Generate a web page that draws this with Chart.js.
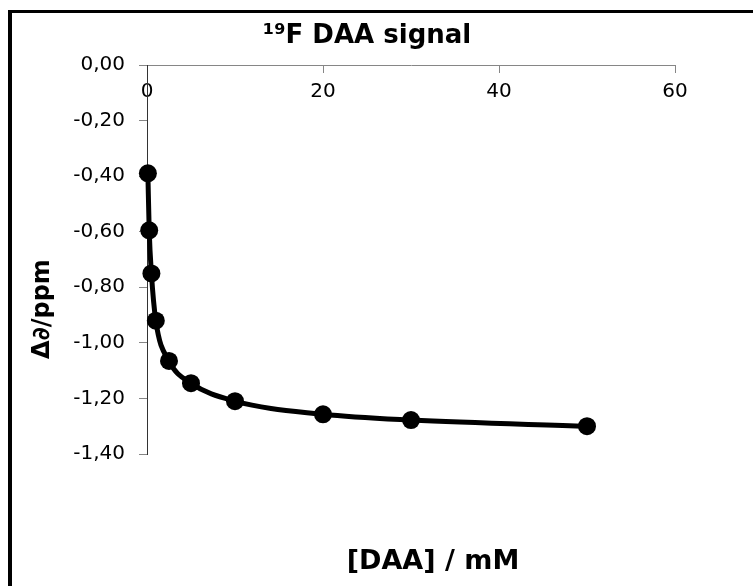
<!DOCTYPE html>
<html>
<head>
<meta charset="utf-8">
<script src="https://cdn.jsdelivr.net/npm/chart.js@4.4.0/dist/chart.umd.min.js"></script>
<style>
    body { margin: 0; overflow: hidden; background: #fff; }
    #frame { position: absolute; left: 8px; top: 10px; width: 800px; height: 700px; border-left: 4px solid #000; border-top: 3px solid #000; }
    #myChart { position: absolute; left: 0; top: 0; }
</style>
</head>
<body>
<canvas id="myChart" width="753" height="586"></canvas>
<div id="frame"></div>
<script>
const concentrations = [0.1, 0.25, 0.5, 1, 2.5, 5, 10, 20, 30, 50]
const shifts = [-0.39, -0.595, -0.75, -0.92, -1.065, -1.145, -1.21, -1.257, -1.278, -1.30]
const xTicks = [0, 20, 40, 60]
const yTicks = [0, -0.2, -0.4, -0.6, -0.8, -1.0, -1.2, -1.4]

const chartTitle = '¹⁹F DAA signal'
const xTitle = '[DAA] / mM'
const yTitle = 'Δ∂/ppm'

const points = concentrations.map((c, i) => ({ x: c, y: shifts[i] }))

const axisGray = '#868686'

// axis titles are placed freely (not centred on the axes), so draw them by hand
const axisTitlesPlugin = {
    id: 'axisTitles',
    afterDraw(chart) {
        const ctx = chart.ctx
        ctx.save()
        ctx.fillStyle = '#000'
        ctx.textAlign = 'center'
        ctx.textBaseline = 'middle'
        ctx.font = 'bold 27px "DejaVu Sans"'
        ctx.fillText(xTitle, 433, 562)
        ctx.translate(43, 309)
        ctx.rotate(-Math.PI / 2)
        ctx.font = 'bold 24px "DejaVu Sans"'
        ctx.fillText(yTitle, 0, 0)
        ctx.restore()
    }
}

const ctx = document.getElementById('myChart').getContext('2d')
const myChart = new Chart(ctx, {
    type: 'scatter',
    data: {
        datasets: [{
            data: points,
            showLine: true,
            cubicInterpolationMode: 'monotone',
            borderColor: '#000',
            borderWidth: 5,
            backgroundColor: '#000',
            pointRadius: 9,
            pointHoverRadius: 9,
            pointBorderWidth: 0,
            clip: false
        }]
    },
    options: {
        responsive: false,
        animation: false,
        layout: { padding: { top: 12, left: 0, right: 19, bottom: 132 } },
        plugins: {
            legend: { display: false },
            tooltip: { enabled: false },
            title: {
                display: true,
                text: chartTitle,
                color: '#000',
                font: { family: 'DejaVu Sans', size: 26, weight: 'bold' },
                padding: { top: 8.4, bottom: 13.4 }
            }
        },
        scales: {
            x: {
                type: 'linear',
                position: { y: 0 },
                min: 0,
                max: 60,
                afterBuildTicks: axis => { axis.ticks = xTicks.map(v => ({ value: v })) },
                afterFit: axis => { axis.height = 0 },
                grid: { drawOnChartArea: false, color: axisGray, tickLength: 7 },
                border: { color: axisGray, width: 1 },
                ticks: {
                    color: '#000',
                    padding: 8,
                    font: { family: 'DejaVu Sans', size: 20 }
                }
            },
            y: {
                type: 'linear',
                position: 'left',
                min: -1.4,
                max: 0,
                afterBuildTicks: axis => { axis.ticks = yTicks.map(v => ({ value: v })) },
                afterFit: axis => { axis.width = 147 },
                grid: { drawOnChartArea: false, color: axisGray, tickLength: 8 },
                border: { color: '#333', width: 1 },
                ticks: {
                    color: '#000',
                    padding: 14,
                    font: { family: 'DejaVu Sans', size: 20 },
                    callback: v => v.toFixed(2).replace('.', ',')
                }
            },
            y2: {
                type: 'linear',
                position: 'right',
                afterFit: axis => { axis.width = 59 },
                grid: { display: false },
                border: { display: false },
                ticks: { display: false }
            }
        }
    },
    plugins: [axisTitlesPlugin]
})
</script>
</body>
</html>
